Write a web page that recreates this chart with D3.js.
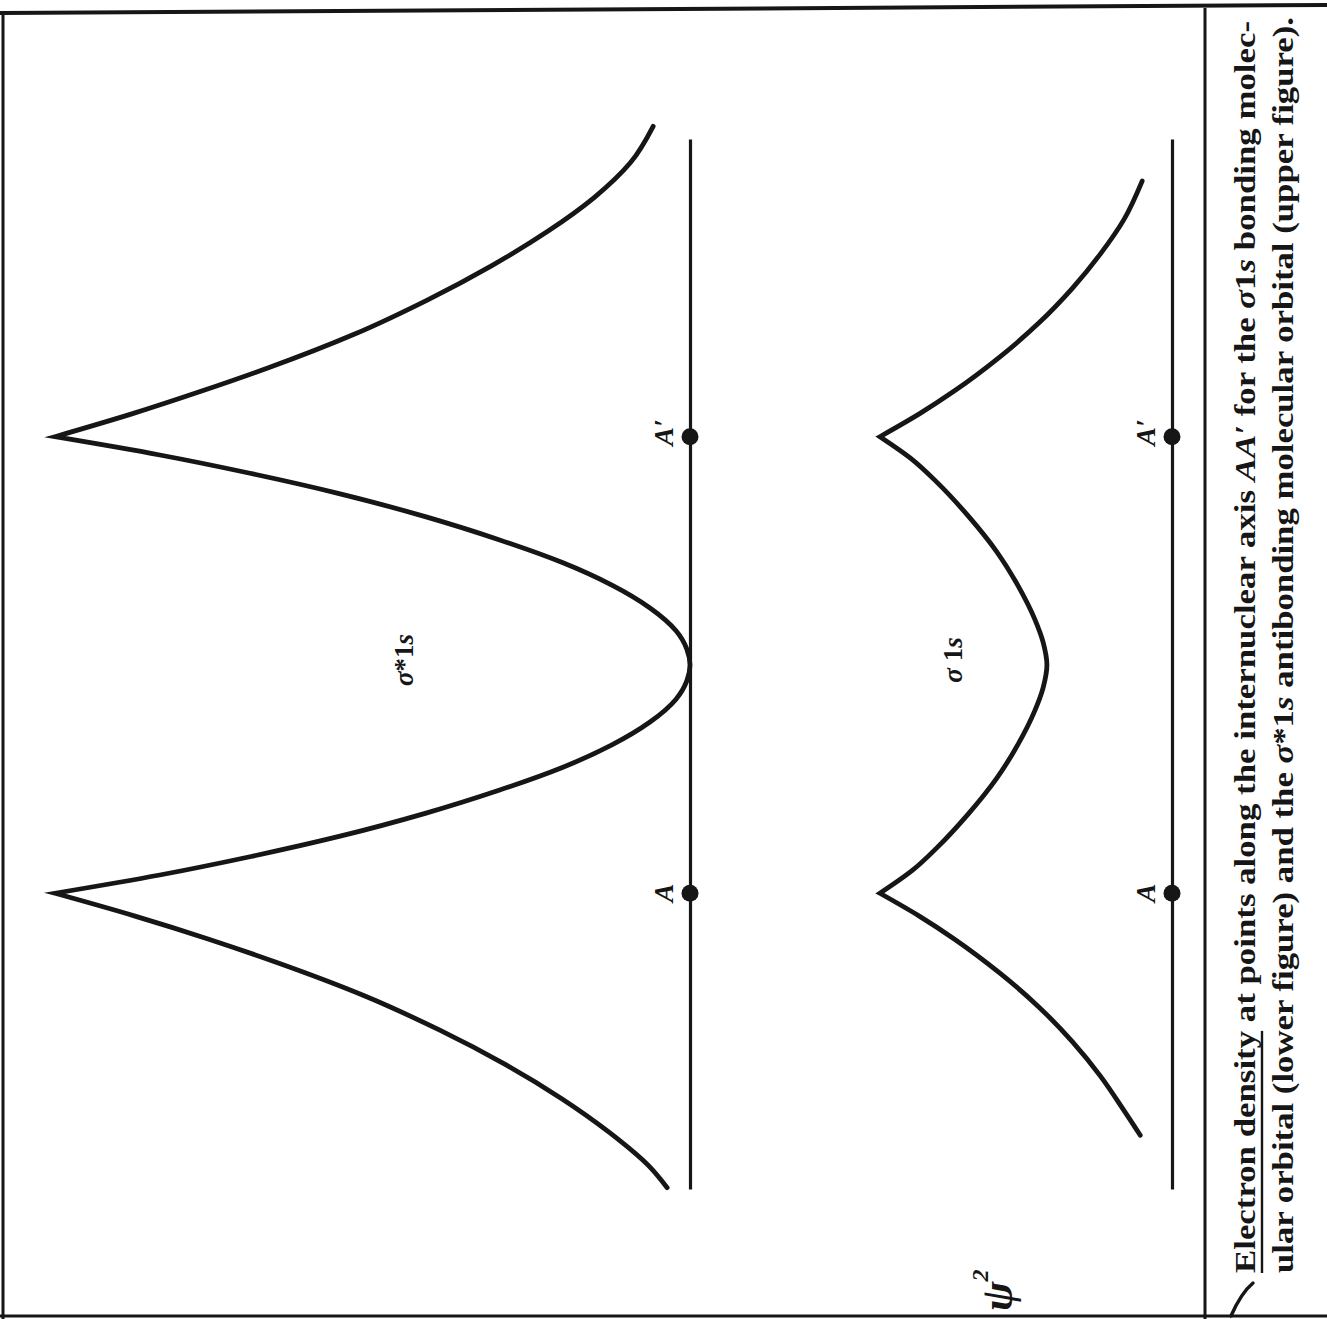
<!DOCTYPE html>
<html>
<head>
<meta charset="utf-8">
<script src="https://cdn.jsdelivr.net/npm/d3@7"></script>
<style>
  html, body { margin: 0; padding: 0; background: #fff; }
  svg { display: block; }
</style>
</head>
<body>
<script>
// Position along the internuclear axis, in units where the nuclei sit at -1 and +1
const axisExtent = [-2.3, 2.3];
const nucleusPos = [-1, 1];
const nucleusLabels = ["A", "A′"];

// σ*1s antibonding orbital: electron density ψ² (arbitrary units, peak = 1)
const antibondingPos = [
  -2.29, -2.20, -2.05, -1.90, -1.75, -1.60, -1.45, -1.30, -1.20, -1.10, -1.00,
  -0.92, -0.84, -0.75, -0.65, -0.55, -0.45, -0.35, -0.25, -0.15, -0.07, 0.00,
  0.07, 0.15, 0.25, 0.35, 0.45, 0.55, 0.65, 0.75, 0.84, 0.92, 1.00,
  1.10, 1.20, 1.30, 1.45, 1.60, 1.75, 1.90, 2.05, 2.20, 2.36];
const antibondingDensity = [
  0.036, 0.063, 0.126, 0.202, 0.291, 0.394, 0.512, 0.654, 0.759, 0.874, 1.000,
  0.835, 0.693, 0.551, 0.417, 0.302, 0.202, 0.123, 0.063, 0.022, 0.005, 0.000,
  0.005, 0.022, 0.063, 0.123, 0.202, 0.302, 0.417, 0.551, 0.693, 0.835, 1.000,
  0.879, 0.769, 0.666, 0.528, 0.413, 0.312, 0.224, 0.150, 0.094, 0.058];

// σ1s bonding orbital: electron density ψ² (same units)
const bondingPos = [
  -2.06, -1.95, -1.80, -1.65, -1.50, -1.35, -1.20, -1.10, -1.00,
  -0.90, -0.80, -0.65, -0.50, -0.35, -0.20, -0.10, 0.00,
  0.10, 0.20, 0.35, 0.50, 0.65, 0.80, 0.90, 1.00,
  1.10, 1.20, 1.35, 1.50, 1.65, 1.80, 1.95, 2.12];
const bondingDensity = [
  0.050, 0.076, 0.113, 0.157, 0.209, 0.271, 0.343, 0.398, 0.460,
  0.409, 0.370, 0.320, 0.277, 0.243, 0.216, 0.203, 0.197,
  0.203, 0.216, 0.243, 0.277, 0.320, 0.370, 0.409, 0.460,
  0.398, 0.343, 0.271, 0.209, 0.157, 0.113, 0.076, 0.047];

// Caption, as runs of text with their styles
const captionLine1 = [
  { t: "Electron density", under: true },
  { t: " at points along the internuclear axis " },
  { t: "AA′", it: true },
  { t: " for the " },
  { t: "σ", it: true }, { t: "1" }, { t: "s", it: true },
  { t: " bonding molec-" }
];
const captionLine2 = [
  { t: "ular orbital (lower figure) and the " },
  { t: "σ", it: true }, { t: "*1" }, { t: "s", it: true },
  { t: " antibonding molecular orbital (upper figure)." }
];

const W = 1327, H = 1319;
const ink = "#161616";
const serif = "'Liberation Serif', 'Times New Roman', serif";

const svg = d3.select("body").append("svg")
  .attr("width", W).attr("height", H)
  .attr("viewBox", `0 0 ${W} ${H}`);

svg.append("rect").attr("width", W).attr("height", H).attr("fill", "#fff");

// Page frame and the caption panel divider
const frame = svg.append("g").attr("stroke", ink).attr("fill", "none");
frame.append("line").attr("x1", 0).attr("y1", 13).attr("x2", W).attr("y2", 5).attr("stroke-width", 4);
frame.append("line").attr("x1", 3).attr("y1", 12).attr("x2", 3).attr("y2", H).attr("stroke-width", 3);
frame.append("line").attr("x1", 0).attr("y1", 1316).attr("x2", W).attr("y2", 1316).attr("stroke-width", 3);
frame.append("line").attr("x1", 1205).attr("y1", 8).attr("x2", 1205).attr("y2", H).attr("stroke-width", 3);

// The figure is typeset sideways: draw it in a rotated frame (u along the axis, v across)
const g = svg.append("g").attr("transform", `translate(0,${H}) rotate(-90)`);

const x = d3.scaleLinear().domain(axisExtent).range([129, 1179]);
const yUpper = d3.scaleLinear().domain([0, 1]).range([690, 55]);
const yLower = d3.scaleLinear().domain([0, 1]).range([1172, 537]);

const panels = [
  { pos: antibondingPos, dens: antibondingDensity, y: yUpper },
  { pos: bondingPos, dens: bondingDensity, y: yLower }
];

// Split a density profile into pieces between its cusps (the nuclear maxima)
function pieces(pos, dens) {
  const pts = pos.map((p, i) => ({ p, d: dens[i] }));
  const out = [];
  let cur = [pts[0]];
  for (let i = 1; i < pts.length; i++) {
    cur.push(pts[i]);
    const isPeak = i < pts.length - 1 && pts[i].d > pts[i - 1].d && pts[i].d > pts[i + 1].d;
    if (isPeak) { out.push(cur); cur = [pts[i]]; }
  }
  out.push(cur);
  return out;
}

panels.forEach(panel => {
  const base = panel.y(0);

  // internuclear axis
  const ax = g.append("g")
    .attr("transform", `translate(0,${base})`)
    .call(d3.axisBottom(x).tickValues([]).tickSizeOuter(0));
  ax.select(".domain").attr("stroke", ink).attr("stroke-width", 3.2);

  // density curve, smooth between nuclei and pointed at each nucleus
  const line = d3.line()
    .x(d => x(d.p))
    .y(d => panel.y(d.d))
    .curve(d3.curveMonotoneX);
  const dStr = pieces(panel.pos, panel.dens)
    .map((seg, i) => i === 0 ? line(seg) : line(seg).replace(/^M/, "L"))
    .join("");
  g.append("path")
    .attr("d", dStr)
    .attr("fill", "none")
    .attr("stroke", ink)
    .attr("stroke-width", 4.8)
    .attr("stroke-linejoin", "miter")
    .attr("stroke-miterlimit", 12)
    .attr("stroke-linecap", "round");

  // nuclei
  g.selectAll(null).data(nucleusPos).enter().append("circle")
    .attr("cx", d => x(d)).attr("cy", base).attr("r", 8.5).attr("fill", ink);

  g.selectAll(null).data(nucleusPos).enter().append("text")
    .attr("x", d => x(d) - 9)
    .attr("y", base - 17)
    .attr("font-family", serif)
    .attr("font-weight", "bold")
    .attr("font-style", "italic")
    .attr("font-size", 28)
    .attr("fill", ink)
    .text((d, i) => nucleusLabels[i]);
});

// orbital names
function orbitalLabel(yv, star) {
  const t = g.append("text")
    .attr("x", x(0) + 5).attr("y", yv)
    .attr("text-anchor", "middle")
    .attr("font-family", serif).attr("font-weight", "bold")
    .attr("font-size", 27).attr("fill", ink);
  t.append("tspan").attr("font-style", "italic").text("σ");
  t.append("tspan").text(star ? "*1" : " 1");
  t.append("tspan").attr("font-style", "italic").text("s");
}
orbitalLabel(413, true);
orbitalLabel(962, false);

// ψ² axis label
const psi = g.append("text")
  .attr("x", 8).attr("y", 1012)
  .attr("font-family", serif).attr("font-weight", "bold").attr("font-style", "italic")
  .attr("font-size", 44).attr("fill", ink);
psi.append("tspan").text("ψ");
psi.append("tspan").attr("font-size", 24).attr("dy", -24).text("2");

// caption: set to the panel width, glyphs widened slightly to fill each line
const captionSpecs = [
  { runs: captionLine1, y: 1255, len: 1252 },
  { runs: captionLine2, y: 1293, len: 1256 }
];
const captionTexts = captionSpecs.map(spec => {
  const t = g.append("text")
    .attr("x", 46).attr("y", spec.y)
    .attr("font-family", serif).attr("font-weight", "bold")
    .attr("font-size", 30).attr("fill", ink)
    .attr("textLength", spec.len)
    .attr("lengthAdjust", "spacingAndGlyphs");
  spec.runs.forEach(r => {
    const s = t.append("tspan").text(r.t);
    if (r.it) s.attr("font-style", "italic");
  });
  return t;
});

// underline under the first phrase
const node = captionTexts[0].node();
let uStart = 46, uEnd = 46 + 190;
try {
  uStart = node.getStartPositionOfChar(0).x;
  uEnd = node.getEndPositionOfChar(captionLine1[0].t.length - 1).x;
} catch (e) {}
g.append("line")
  .attr("x1", uStart).attr("x2", uEnd)
  .attr("y1", 1262).attr("y2", 1262)
  .attr("stroke", ink).attr("stroke-width", 2.4);

// hand-drawn leader from the underline to the frame
svg.append("path")
  .attr("d", "M1253,1283 Q1241,1293 1231,1316")
  .attr("fill", "none").attr("stroke", ink)
  .attr("stroke-width", 3.5).attr("stroke-linecap", "round");
</script>
</body>
</html>
